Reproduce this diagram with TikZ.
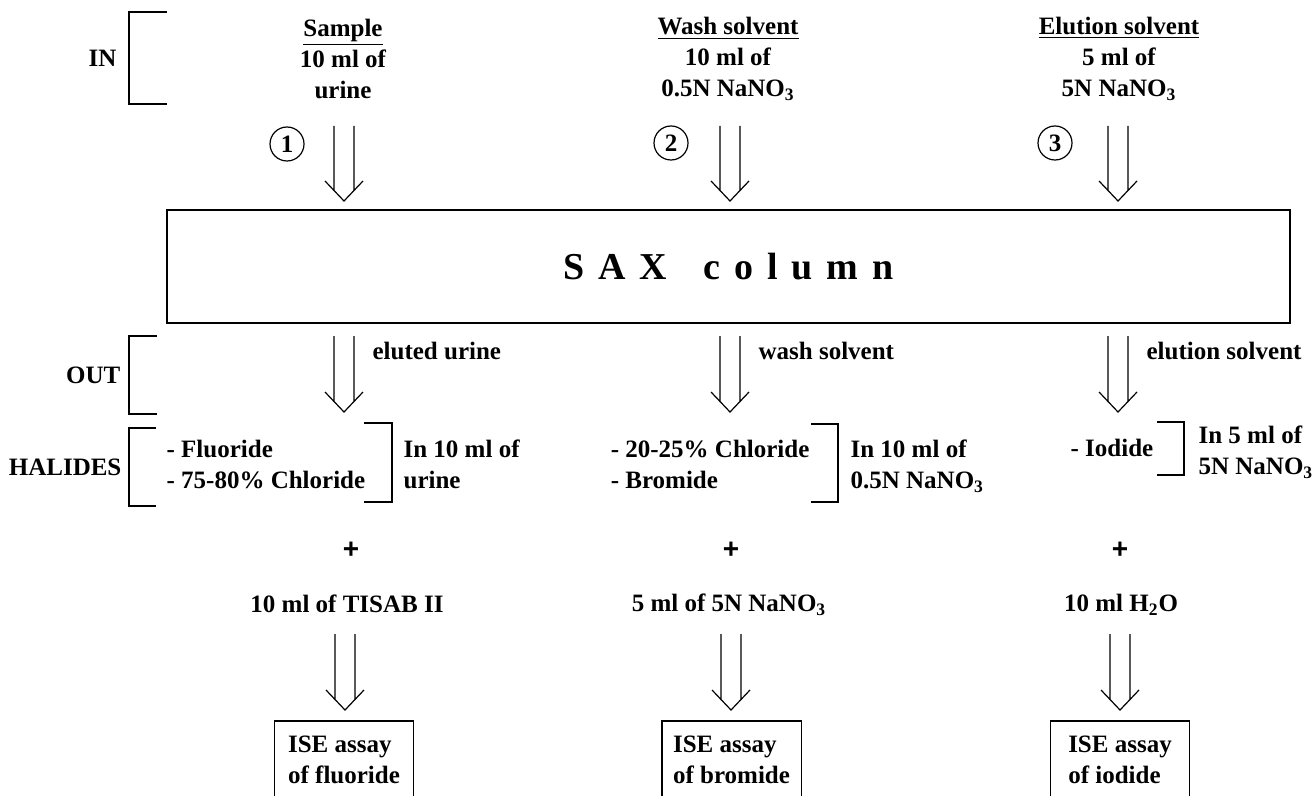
\documentclass[tikz,border=0pt]{standalone}
\usepackage{fontspec}
\setmainfont{Liberation Serif}
\newfontfamily\plusfont{Liberation Sans}
\usetikzlibrary{positioning,calc}

% open double-shaft arrow: #1 start, #2 tip
\newcommand{\hollowarrow}[2]{%
  \draw ($(#1)+(-10,0)$) -- ($(#2)+(-10,-10)$)
        ($(#1)+(10,0)$) -- ($(#2)+(10,-10)$)
        ($(#2)+(-19,-20)$) -- (#2) -- ($(#2)+(19,-20)$);%
}

\begin{document}
\begin{tikzpicture}[x=0.5pt,y=-0.5pt,line width=0.6pt,
    font=\bfseries\fontsize{12.5}{15.5}\selectfont,
    every node/.style={inner sep=0pt},
    numcircle/.style={circle,draw,minimum size=17pt},
    column box/.style={draw,line width=0.75pt,minimum width=561.5pt,minimum height=56.5pt},
    assay/.style={align=left,anchor=north,minimum width=69pt,inner ysep=7pt},
    plus/.style={font=\plusfont\bfseries\fontsize{14}{16}\selectfont}]

\useasboundingbox (0,0) rectangle (1315,796);
\clip (0,0) rectangle (1315,796);

% inputs
\node[anchor=east] (inlbl) at (117,58) {IN};
\draw (167,12) -- (129,12) -- (129,104) -- (167,104);

\node[align=center] (sample)  at (343,59)  {\underline{Sample}\\10 ml of\\urine};
\node[align=center] (wash)    at (728,59)  {\underline{Wash solvent}\\10 ml of\\0.5N NaNO\textsubscript{3}};
\node[align=center] (elution) at (1119,59) {\underline{Elution solvent}\\5 ml of\\5N NaNO\textsubscript{3}};

\node[numcircle] (n1) at (287,144)  {1};
\node[numcircle] (n2) at (671,143)  {2};
\node[numcircle] (n3) at (1055,143) {3};

\coordinate (in1) at (344,126);  \coordinate (top1) at (344,201);
\coordinate (in2) at (730,126);  \coordinate (top2) at (730,201);
\coordinate (in3) at (1118,126); \coordinate (top3) at (1118,201);
\hollowarrow{in1}{top1}
\hollowarrow{in2}{top2}
\hollowarrow{in3}{top3}

% column
\node[column box] (sax) at (728.5,266.5)
  {\fontsize{19}{20}\selectfont S\kern7pt A\kern7pt X\hspace{18pt}c\kern7pt o\kern7pt l\kern7pt u\kern7pt m\kern7pt n};

% outputs
\node[anchor=east] (outlbl) at (121,375) {OUT};
\draw (157,336) -- (129,336) -- (129,414) -- (157,414);

\coordinate (out1) at (344,336);  \coordinate (bot1) at (344,412);
\coordinate (out2) at (730,336);  \coordinate (bot2) at (730,412);
\coordinate (out3) at (1118,336); \coordinate (bot3) at (1118,412);
\hollowarrow{out1}{bot1}
\hollowarrow{out2}{bot2}
\hollowarrow{out3}{bot3}

\node[anchor=west] (eluted)  at (372,351)  {eluted urine};
\node[anchor=west] (washout) at (758,351)  {wash solvent};
\node[anchor=west] (eluout)  at (1146,351) {elution solvent};

% halides
\node[anchor=east] (hallbl) at (122,467) {HALIDES};
\draw (156,428) -- (129,428) -- (129,506) -- (156,506);

\node[anchor=west,align=left] (list1) at (166,464) {- Fluoride\\- 75-80\% Chloride};
\draw (364,423) -- (392,423) -- (392,502) -- (364,502);
\node[anchor=west,align=left] (vol1) at (403,464) {In 10 ml of\\urine};

\node[anchor=east,align=left] (list2) at (810,464) {- 20-25\% Chloride\\- Bromide};
\draw (811,424) -- (838,424) -- (838,502) -- (811,502);
\node[anchor=west,align=left] (vol2) at (850,466) {In 10 ml of\\0.5N NaNO\textsubscript{3}};

\node[anchor=west] (list3) at (1070,448) {- Iodide};
\draw (1157,422) -- (1184,422) -- (1184,475) -- (1157,475);
\node[anchor=west,align=left] (vol3) at (1198,452) {In 5 ml of\\5N NaNO\textsubscript{3}};

% reagents
\node[plus] (plus1) at (351,550)  {+};
\node[plus] (plus2) at (731,550)  {+};
\node[plus] (plus3) at (1120,550) {+};

\node (tisab) at (347,604)  {10 ml of TISAB II};
\node (nano)  at (729,605)  {5 ml of 5N NaNO\textsubscript{3}};
\node (water) at (1121,605) {10 ml H\textsubscript{2}O};

\coordinate (add1) at (345,634);  \coordinate (end1) at (345,710);
\coordinate (add2) at (731,634);  \coordinate (end2) at (731,710);
\coordinate (add3) at (1120,634); \coordinate (end3) at (1120,710);
\hollowarrow{add1}{end1}
\hollowarrow{add2}{end2}
\hollowarrow{add3}{end3}

% assays
\node[assay] (ise1) at (344,721)    {ISE assay\\of fluoride};
\node[assay] (ise2) at (731.5,721)  {ISE assay\\of bromide};
\node[assay] (ise3) at (1120,721)   {ISE assay\\of iodide};
\foreach \b in {ise1,ise2,ise3}
  \draw ($(\b.north west)+(0,100)$) -- (\b.north west) -- (\b.north east) -- ($(\b.north east)+(0,100)$);

\end{tikzpicture}
\end{document}
